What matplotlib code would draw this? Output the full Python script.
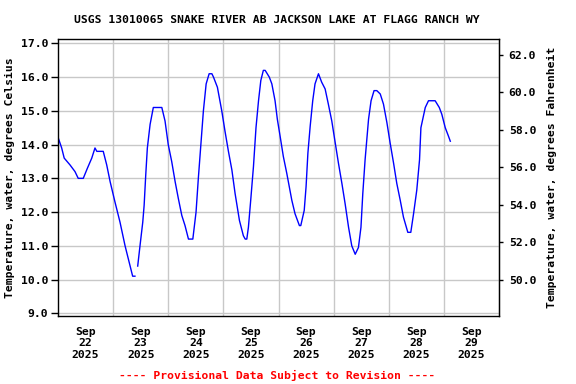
import matplotlib
matplotlib.use("Agg")
import matplotlib.pyplot as plt
import numpy as np
import pandas as pd

# Hours since 2025-09-22 00:00 and water temperature (deg C)
hours = [0.1, 1.6, 2.7, 5.2, 7.4, 8.8, 11.0, 12.8, 14.7, 16.1, 16.9, 19.7, 21.2, 22.7,
         24.8, 27.0, 29.2, 31.4, 32.5, 33.5, 34.1,
         34.7, 35.7, 36.9, 37.5, 38.2, 38.9, 40.1, 41.5, 45.2, 46.6, 48.0, 49.5, 51.0,
         52.4, 53.9, 55.3, 56.8, 58.7, 60.1, 61.1, 62.2, 63.3, 64.5, 65.8, 67.0, 67.7,
         69.4, 71.3, 72.7, 74.2, 75.7, 77.1, 79.0, 80.7, 81.5, 82.2, 82.9, 83.9, 85.1,
         86.2, 87.3, 88.3, 89.4, 90.2, 92.0, 93.1, 94.5, 95.5, 96.7, 98.1, 99.6, 101.8,
         103.2, 105.1, 105.7, 107.2, 108.0, 108.8, 109.8, 110.9, 111.9, 113.4, 114.8,
         116.3, 117.7, 119.2, 120.7, 122.1, 123.6, 125.0, 126.5, 127.9, 129.4, 130.8,
         131.9, 132.7, 133.7, 135.2, 136.3, 137.6, 138.8, 140.3, 141.7, 143.2, 144.6,
         146.1, 147.5, 149.0, 150.4, 152.3, 153.6, 154.8, 156.2, 157.4, 158.0, 159.9,
         161.3, 164.2, 166.0, 167.1, 168.6, 170.0, 170.8]
temps = [14.2, 13.9, 13.6, 13.4, 13.2, 13.0, 13.0, 13.3, 13.6, 13.9, 13.8, 13.8, 13.4, 12.9,
         12.3, 11.7, 11.0, 10.4, 10.1, 10.1, np.nan,
         10.4, 11.0, 11.7, 12.2, 13.1, 13.9, 14.6, 15.1, 15.1, 14.7, 14.0, 13.5, 12.9,
         12.4, 11.9, 11.6, 11.2, 11.2, 12.0, 13.0, 14.0, 15.0, 15.8, 16.1, 16.1, 16.0,
         15.7, 15.0, 14.4, 13.8, 13.25, 12.55, 11.75, 11.3, 11.2, 11.2, 11.55, 12.35, 13.35,
         14.5, 15.3, 15.9, 16.2, 16.2, 16.0, 15.8, 15.3, 14.75, 14.25, 13.65, 13.15, 12.35,
         11.95, 11.6, 11.6, 12.05, 12.75, 13.75, 14.55, 15.3, 15.8, 16.1, 15.85,
         15.65, 15.2, 14.7, 14.05, 13.45, 12.85, 12.25, 11.55, 11.0, 10.75, 10.95,
         11.55, 12.55, 13.55, 14.75, 15.3, 15.6, 15.6, 15.5, 15.2, 14.65, 14.05,
         13.45, 12.85, 12.35, 11.85, 11.4, 11.4, 11.95, 12.65, 13.55, 14.5, 15.1,
         15.3, 15.3, 15.1, 14.9, 14.5, 14.25, 14.1]

title = "USGS 13010065 SNAKE RIVER AB JACKSON LAKE AT FLAGG RANCH WY"
left_label = "Temperature, water, degrees Celsius"
right_label = "Temperature, water, degrees Fahrenheit"
footer = "---- Provisional Data Subject to Revision ----"
c_ticks = [9.0, 10.0, 11.0, 12.0, 13.0, 14.0, 15.0, 16.0, 17.0]
f_ticks = [50.0, 52.0, 54.0, 56.0, 58.0, 60.0, 62.0]
day_labels = ["Sep\n22\n2025", "Sep\n23\n2025", "Sep\n24\n2025", "Sep\n25\n2025",
              "Sep\n26\n2025", "Sep\n27\n2025", "Sep\n28\n2025", "Sep\n29\n2025"]

start = pd.Timestamp("2025-09-22")
times = [start + pd.Timedelta(hours=h) for h in hours]

mono = "DejaVu Sans Mono"
fs = 8.2

fig = plt.figure(figsize=(5.76, 3.84), dpi=100)
ax = fig.add_axes([58/576, 1-316/384, 441/576, 277/384])

ax.plot(times, temps, color="#0000ff", lw=1.0)

ax.set_xlim(start, start + pd.Timedelta(days=8))
ax.set_ylim(8.92, 17.13)

ax.set_yticks(c_ticks)
ax.set_yticklabels([f"{v:.1f}" for v in c_ticks], family=mono, weight="bold", fontsize=fs)

noon = [start + pd.Timedelta(days=i, hours=12) for i in range(8)]
mid = [start + pd.Timedelta(days=i) for i in range(1, 8)]
ax.set_xticks(noon)
ax.set_xticklabels(day_labels, family=mono, weight="bold", fontsize=fs, linespacing=1.15)
ax.set_xticks(mid, minor=True)
ax.tick_params(axis="x", which="both", length=0, pad=8)
ax.tick_params(axis="y", length=5, width=1, pad=2)

ax.grid(True, axis="y", which="major", color="#c8c8c8", lw=1)
ax.grid(True, axis="x", which="minor", color="#c8c8c8", lw=1)
ax.grid(False, axis="x", which="major")
ax.set_axisbelow(True)
for s in ax.spines.values():
    s.set_linewidth(1.0)

ax.set_ylabel(left_label, family=mono, weight="bold", fontsize=fs, labelpad=4)

sec = ax.secondary_yaxis("right", functions=(lambda c: c * 9/5 + 32, lambda f: (f - 32) * 5/9))
sec.set_yticks(f_ticks)
sec.set_yticklabels([f"{v:.1f}" for v in f_ticks], family=mono, weight="bold", fontsize=fs)
sec.tick_params(length=3, width=1, pad=4)
sec.set_ylabel(right_label, family=mono, weight="bold", fontsize=fs, labelpad=8)

fig.text(277/576, 1-20/384, title, family=mono, weight="bold", fontsize=fs,
         ha="center", va="center")
fig.text(277/576, 1-375/384, footer, family=mono, weight="bold", fontsize=fs,
         color="#ff0000", ha="center", va="center")

fig.savefig("out.png", dpi=100)
